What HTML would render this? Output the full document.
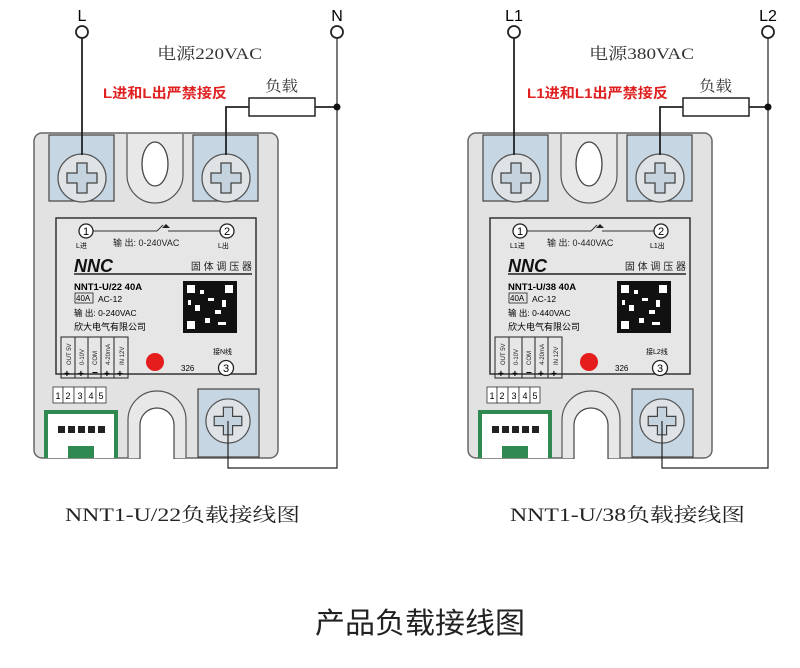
<!DOCTYPE html>
<html><head><meta charset="utf-8"><style>
html,body{margin:0;padding:0;background:#fff;}
svg{display:block;}
.s{font-family:"Liberation Sans","Noto Sans CJK SC",sans-serif;}
.f{font-family:"Liberation Serif","Noto Serif CJK SC",serif;}
</style></head><body>
<svg width="800" height="668" viewBox="0 0 800 668" xmlns="http://www.w3.org/2000/svg">
<defs>
<g id="screw">
<circle r="24" fill="#dfe3e6" stroke="#555" stroke-width="1.3"/>
<path d="M-5,-15 h10 v10 h10 v10 h-10 v10 h-10 v-10 h-10 v-10 h10 z" fill="#c4d3dd" stroke="#444" stroke-width="1.3"/>
</g>
</defs>

<!-- ============ LEFT ============ -->
<g>
<rect x="34" y="133" width="244" height="325" rx="8" fill="#e2e2e2" stroke="#666" stroke-width="1.5"/>
<rect x="49" y="135" width="65" height="66" fill="#c6d6e2" stroke="#444" stroke-width="1.2"/>
<rect x="193" y="135" width="65" height="66" fill="#c6d6e2" stroke="#444" stroke-width="1.2"/>
<use href="#screw" x="82" y="178"/>
<use href="#screw" x="226" y="178"/>
<path d="M127,134 V175 A28,28 0 0 0 183,175 V134" fill="#e8e8e8" stroke="#555" stroke-width="1.2"/>
<ellipse cx="155" cy="164" rx="13" ry="22" fill="#fff" stroke="#444" stroke-width="1.3"/>
<rect x="56" y="218" width="200" height="156" fill="#e6e6e6" stroke="#333" stroke-width="1.5"/>
<line x1="93" y1="231" x2="157" y2="231" stroke="#333" stroke-width="1"/>
<line x1="157" y1="231" x2="163" y2="225" stroke="#333"/>
<path d="M162,228 l4,-4 l4,4 z" fill="#222"/>
<line x1="168" y1="231" x2="220" y2="231" stroke="#333" stroke-width="1"/>
<circle cx="86" cy="231" r="7" fill="#fff" stroke="#222" stroke-width="1.3"/>
<text x="86" y="235" class="s" font-size="11" text-anchor="middle">1</text>
<circle cx="227" cy="231" r="7" fill="#fff" stroke="#222" stroke-width="1.3"/>
<text x="227" y="235" class="s" font-size="11" text-anchor="middle">2</text>
<text x="76" y="248" class="s" font-size="7">L进</text>
<text x="113" y="246" class="s" font-size="9" fill="#222">输 出: 0-240VAC</text>
<text x="218" y="248" class="s" font-size="7">L出</text>
<text x="74" y="272" class="s" font-size="18" font-weight="bold" font-style="italic" fill="#111">NNC</text>
<text x="252" y="270" class="s" font-size="10" text-anchor="end" fill="#222">固 体 调 压 器</text>
<line x1="74" y1="274" x2="252" y2="274" stroke="#222" stroke-width="1.5"/>
<text x="74" y="290" class="s" font-size="9.5" font-weight="bold">NNT1-U/22 40A</text>
<rect x="75" y="293" width="18" height="10" fill="none" stroke="#222" stroke-width="0.8"/>
<text x="76" y="301" class="s" font-size="8">40A</text>
<text x="98" y="302" class="s" font-size="8.5">AC-12</text>
<text x="74" y="316" class="s" font-size="8.5">输 出: 0-240VAC</text>
<text x="74" y="330" class="s" font-size="9">欣大电气有限公司</text>
<rect x="183" y="281" width="54" height="52" fill="#111"/>
<g fill="#fff"><rect x="187" y="285" width="8" height="8"/><rect x="225" y="285" width="8" height="8"/><rect x="187" y="321" width="8" height="8"/><rect x="200" y="290" width="4" height="4"/><rect x="208" y="298" width="6" height="3"/><rect x="195" y="305" width="5" height="6"/><rect x="215" y="310" width="6" height="4"/><rect x="222" y="300" width="4" height="7"/><rect x="205" y="318" width="5" height="5"/><rect x="218" y="322" width="8" height="3"/><rect x="188" y="300" width="3" height="5"/></g>
<g fill="none" stroke="#222" stroke-width="1"><rect x="61" y="337" width="67" height="41"/><line x1="75" y1="337" x2="75" y2="378"/><line x1="88" y1="337" x2="88" y2="378"/><line x1="101" y1="337" x2="101" y2="378"/><line x1="114" y1="337" x2="114" y2="378"/></g>
<g class="s" font-size="6" fill="#222"><text transform="translate(71,365) rotate(-90)">OUT 5V</text><text transform="translate(84,365) rotate(-90)">0-10V</text><text transform="translate(97,365) rotate(-90)">COM</text><text transform="translate(110,365) rotate(-90)">4-20mA</text><text transform="translate(124,365) rotate(-90)">IN 12V</text></g>
<g class="s" font-size="10" font-weight="bold"><text x="64" y="377">+</text><text x="78" y="377">+</text><text x="92" y="376">−</text><text x="104" y="377">+</text><text x="117" y="377">+</text></g>
<circle cx="155" cy="362" r="9" fill="#e51d1d"/>
<text x="181" y="371" class="s" font-size="8">326</text>
<text x="213" y="354" class="s" font-size="7">接N线</text>
<circle cx="226" cy="368" r="7.5" fill="#fff" stroke="#222" stroke-width="1.3"/>
<text x="226" y="372" class="s" font-size="11" text-anchor="middle">3</text>
<g fill="#fff" stroke="#333" stroke-width="0.8"><rect x="53" y="387" width="10" height="16"/><rect x="63" y="387" width="11" height="16"/><rect x="74" y="387" width="11" height="16"/><rect x="85" y="387" width="11" height="16"/><rect x="96" y="387" width="10" height="16"/></g>
<g class="s" font-size="9" text-anchor="middle"><text x="58" y="399">1</text><text x="68" y="399">2</text><text x="80" y="399">3</text><text x="91" y="399">4</text><text x="101" y="399">5</text></g>
<rect x="44" y="410" width="74" height="48" fill="#2e8a50"/>
<rect x="48" y="414" width="66" height="44" fill="#fff"/>
<rect x="68" y="446" width="26" height="12" fill="#2e8a50"/>
<g fill="#222"><rect x="58" y="426" width="7" height="7"/><rect x="68" y="426" width="7" height="7"/><rect x="78" y="426" width="7" height="7"/><rect x="88" y="426" width="7" height="7"/><rect x="98" y="426" width="7" height="7"/></g>
<path d="M128,458 V420 A29,29 0 0 1 186,420 V458" fill="#e8e8e8" stroke="#555" stroke-width="1.2"/>
<path d="M140,459 V425 A17,17 0 0 1 174,425 V459" fill="#fff" stroke="#444" stroke-width="1.2"/>
<rect x="198" y="389" width="61" height="68" fill="#c6d6e2" stroke="#444" stroke-width="1.2"/>
<use href="#screw" x="228" y="421" transform="translate(228,421) scale(0.92) translate(-228,-421)"/>
<g fill="none" stroke="#222" stroke-width="1.8">
<line x1="82" y1="38" x2="82" y2="155"/>
<polyline points="226,155 226,107 249,107"/>
<polyline points="315,107 337,107"/>
</g>
<polyline points="228,421 228,468 337,468 337,38" fill="none" stroke="#222" stroke-width="1.2"/>
<rect x="249" y="98" width="66" height="18" fill="#fff" stroke="#222" stroke-width="1.5"/>
<circle cx="337" cy="107" r="3.5" fill="#111"/>
<circle cx="82" cy="32" r="6" fill="#fff" stroke="#222" stroke-width="1.8"/>
<circle cx="337" cy="32" r="6" fill="#fff" stroke="#222" stroke-width="1.8"/>
<text x="82" y="21" class="s" font-size="16" text-anchor="middle">L</text>
<text x="337" y="21" class="s" font-size="16" text-anchor="middle">N</text>
<text x="157" y="59" class="f" font-size="16" fill="#333" textLength="105" lengthAdjust="spacingAndGlyphs">电源220VAC</text>
<text x="103" y="98" class="s" font-size="14" font-weight="bold" fill="#e02020" textLength="124" lengthAdjust="spacingAndGlyphs">L进和L出严禁接反</text>
<text x="265" y="91" class="f" font-size="15" fill="#333" textLength="33" lengthAdjust="spacingAndGlyphs">负载</text>
<text x="65" y="521" class="f" font-size="19" fill="#222" textLength="235" lengthAdjust="spacingAndGlyphs">NNT1-U/22负载接线图</text>
</g>

<!-- ============ RIGHT ============ -->
<g transform="translate(434,0)">
<rect x="34" y="133" width="244" height="325" rx="8" fill="#e2e2e2" stroke="#666" stroke-width="1.5"/>
<rect x="49" y="135" width="65" height="66" fill="#c6d6e2" stroke="#444" stroke-width="1.2"/>
<rect x="193" y="135" width="65" height="66" fill="#c6d6e2" stroke="#444" stroke-width="1.2"/>
<use href="#screw" x="82" y="178"/>
<use href="#screw" x="226" y="178"/>
<path d="M127,134 V175 A28,28 0 0 0 183,175 V134" fill="#e8e8e8" stroke="#555" stroke-width="1.2"/>
<ellipse cx="155" cy="164" rx="13" ry="22" fill="#fff" stroke="#444" stroke-width="1.3"/>
<rect x="56" y="218" width="200" height="156" fill="#e6e6e6" stroke="#333" stroke-width="1.5"/>
<line x1="93" y1="231" x2="157" y2="231" stroke="#333" stroke-width="1"/>
<line x1="157" y1="231" x2="163" y2="225" stroke="#333"/>
<path d="M162,228 l4,-4 l4,4 z" fill="#222"/>
<line x1="168" y1="231" x2="220" y2="231" stroke="#333" stroke-width="1"/>
<circle cx="86" cy="231" r="7" fill="#fff" stroke="#222" stroke-width="1.3"/>
<text x="86" y="235" class="s" font-size="11" text-anchor="middle">1</text>
<circle cx="227" cy="231" r="7" fill="#fff" stroke="#222" stroke-width="1.3"/>
<text x="227" y="235" class="s" font-size="11" text-anchor="middle">2</text>
<text x="76" y="248" class="s" font-size="7">L1进</text>
<text x="113" y="246" class="s" font-size="9" fill="#222">输 出: 0-440VAC</text>
<text x="216" y="248" class="s" font-size="7">L1出</text>
<text x="74" y="272" class="s" font-size="18" font-weight="bold" font-style="italic" fill="#111">NNC</text>
<text x="252" y="270" class="s" font-size="10" text-anchor="end" fill="#222">固 体 调 压 器</text>
<line x1="74" y1="274" x2="252" y2="274" stroke="#222" stroke-width="1.5"/>
<text x="74" y="290" class="s" font-size="9.5" font-weight="bold">NNT1-U/38 40A</text>
<rect x="75" y="293" width="18" height="10" fill="none" stroke="#222" stroke-width="0.8"/>
<text x="76" y="301" class="s" font-size="8">40A</text>
<text x="98" y="302" class="s" font-size="8.5">AC-12</text>
<text x="74" y="316" class="s" font-size="8.5">输 出: 0-440VAC</text>
<text x="74" y="330" class="s" font-size="9">欣大电气有限公司</text>
<rect x="183" y="281" width="54" height="52" fill="#111"/>
<g fill="#fff"><rect x="187" y="285" width="8" height="8"/><rect x="225" y="285" width="8" height="8"/><rect x="187" y="321" width="8" height="8"/><rect x="200" y="290" width="4" height="4"/><rect x="208" y="298" width="6" height="3"/><rect x="195" y="305" width="5" height="6"/><rect x="215" y="310" width="6" height="4"/><rect x="222" y="300" width="4" height="7"/><rect x="205" y="318" width="5" height="5"/><rect x="218" y="322" width="8" height="3"/><rect x="188" y="300" width="3" height="5"/></g>
<g fill="none" stroke="#222" stroke-width="1"><rect x="61" y="337" width="67" height="41"/><line x1="75" y1="337" x2="75" y2="378"/><line x1="88" y1="337" x2="88" y2="378"/><line x1="101" y1="337" x2="101" y2="378"/><line x1="114" y1="337" x2="114" y2="378"/></g>
<g class="s" font-size="6" fill="#222"><text transform="translate(71,365) rotate(-90)">OUT 5V</text><text transform="translate(84,365) rotate(-90)">0-10V</text><text transform="translate(97,365) rotate(-90)">COM</text><text transform="translate(110,365) rotate(-90)">4-20mA</text><text transform="translate(124,365) rotate(-90)">IN 12V</text></g>
<g class="s" font-size="10" font-weight="bold"><text x="64" y="377">+</text><text x="78" y="377">+</text><text x="92" y="376">−</text><text x="104" y="377">+</text><text x="117" y="377">+</text></g>
<circle cx="155" cy="362" r="9" fill="#e51d1d"/>
<text x="181" y="371" class="s" font-size="8">326</text>
<text x="212" y="354" class="s" font-size="7">接L2线</text>
<circle cx="226" cy="368" r="7.5" fill="#fff" stroke="#222" stroke-width="1.3"/>
<text x="226" y="372" class="s" font-size="11" text-anchor="middle">3</text>
<g fill="#fff" stroke="#333" stroke-width="0.8"><rect x="53" y="387" width="10" height="16"/><rect x="63" y="387" width="11" height="16"/><rect x="74" y="387" width="11" height="16"/><rect x="85" y="387" width="11" height="16"/><rect x="96" y="387" width="10" height="16"/></g>
<g class="s" font-size="9" text-anchor="middle"><text x="58" y="399">1</text><text x="68" y="399">2</text><text x="80" y="399">3</text><text x="91" y="399">4</text><text x="101" y="399">5</text></g>
<rect x="44" y="410" width="74" height="48" fill="#2e8a50"/>
<rect x="48" y="414" width="66" height="44" fill="#fff"/>
<rect x="68" y="446" width="26" height="12" fill="#2e8a50"/>
<g fill="#222"><rect x="58" y="426" width="7" height="7"/><rect x="68" y="426" width="7" height="7"/><rect x="78" y="426" width="7" height="7"/><rect x="88" y="426" width="7" height="7"/><rect x="98" y="426" width="7" height="7"/></g>
<path d="M128,458 V420 A29,29 0 0 1 186,420 V458" fill="#e8e8e8" stroke="#555" stroke-width="1.2"/>
<path d="M140,459 V425 A17,17 0 0 1 174,425 V459" fill="#fff" stroke="#444" stroke-width="1.2"/>
<rect x="198" y="389" width="61" height="68" fill="#c6d6e2" stroke="#444" stroke-width="1.2"/>
<use href="#screw" x="228" y="421" transform="translate(228,421) scale(0.92) translate(-228,-421)"/>
<g fill="none" stroke="#222" stroke-width="1.8">
<line x1="80" y1="38" x2="80" y2="155"/>
<polyline points="226,155 226,107 249,107"/>
<polyline points="315,107 334,107"/>
</g>
<polyline points="228,421 228,468 334,468 334,38" fill="none" stroke="#222" stroke-width="1.2"/>
<rect x="249" y="98" width="66" height="18" fill="#fff" stroke="#222" stroke-width="1.5"/>
<circle cx="334" cy="107" r="3.5" fill="#111"/>
<circle cx="80" cy="32" r="6" fill="#fff" stroke="#222" stroke-width="1.8"/>
<circle cx="334" cy="32" r="6" fill="#fff" stroke="#222" stroke-width="1.8"/>
<text x="80" y="21" class="s" font-size="16" text-anchor="middle">L1</text>
<text x="334" y="21" class="s" font-size="16" text-anchor="middle">L2</text>
<text x="155" y="59" class="f" font-size="16" fill="#333" textLength="105" lengthAdjust="spacingAndGlyphs">电源380VAC</text>
<text x="93" y="98" class="s" font-size="14" font-weight="bold" fill="#e02020" textLength="141" lengthAdjust="spacingAndGlyphs">L1进和L1出严禁接反</text>
<text x="265" y="91" class="f" font-size="15" fill="#333" textLength="33" lengthAdjust="spacingAndGlyphs">负载</text>
<text x="76" y="521" class="f" font-size="19" fill="#222" textLength="235" lengthAdjust="spacingAndGlyphs">NNT1-U/38负载接线图</text>
</g>

<text x="420" y="633" class="s" font-size="29" text-anchor="middle" fill="#222" textLength="210" lengthAdjust="spacingAndGlyphs">产品负载接线图</text>
</svg>
</body></html>
